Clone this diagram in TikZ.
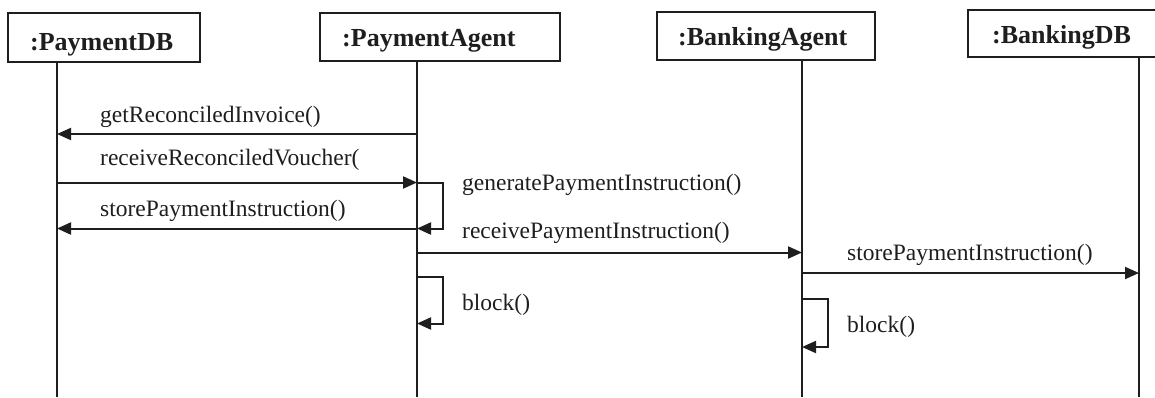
\documentclass[tikz,border=0pt]{standalone}
\usepackage{fontspec}
\setmainfont{Liberation Serif}
\usetikzlibrary{arrows.meta}
\definecolor{ink}{HTML}{1E1E1E}
\tikzset{
  obj/.style={draw=ink, line width=2pt, rectangle, inner sep=0pt},
  hdr/.style={anchor=base west, inner sep=0pt, text=ink,
    font=\fontsize{26}{30}\selectfont\bfseries},
  life/.style={draw=ink, line width=2pt},
  msg/.style={draw=ink, line width=2pt, -{Triangle[length=14pt,width=12pt]}},
  lbl/.style={anchor=base west, inner sep=0pt, text=ink,
    font=\fontsize{23.5}{28}\selectfont}
}
\begin{document}
\begin{tikzpicture}[x=1pt,y=-1pt]
\useasboundingbox (0,0) rectangle (1155,397);

% object headers (the last one runs past the right margin)
\node[obj, minimum width=192pt, minimum height=49pt] (pdb) at (104,37.5) {};
\node[obj, minimum width=240pt, minimum height=48pt] (pag) at (440,36.5) {};
\node[obj, minimum width=218pt, minimum height=48pt] (bag) at (766,35.5) {};
\node[obj, minimum width=196pt, minimum height=47pt] (bdb) at (1066,33.5) {};

\node[hdr] (tpdb) at (30,50) {:PaymentDB};
\node[hdr] (tpag) at (342,46.7) {:PaymentAgent};
\node[hdr] (tbag) at (678,45.5) {:BankingAgent};
\node[hdr] (tbdb) at (992,43) {:BankingDB};

% lifeline positions
\coordinate (xa) at (57,0);
\coordinate (xb) at (417,0);
\coordinate (xc) at (802,0);
\coordinate (xd) at (1139,0);
\coordinate (bot) at (0,397);

\draw[life] (pdb.south -| xa) -- (bot -| xa);
\draw[life] (pag.south -| xb) -- (bot -| xb);
\draw[life] (bag.south -| xc) -- (bot -| xc);
\draw[life] (bdb.south -| xd) -- (bot -| xd);

% message rows
\coordinate (r1) at (0,134);
\coordinate (r2) at (0,182.5);
\coordinate (r3) at (0,228.5);
\coordinate (r4) at (0,252.5);
\coordinate (r5) at (0,276.5);
\coordinate (r6) at (0,323.5);
\coordinate (r7) at (0,273);
\coordinate (r8) at (0,299);
\coordinate (r9) at (0,347);

% calls between lifelines
\draw[msg] (xb |- r1) -- (xa |- r1);
\draw[msg] (xa |- r2) -- (xb |- r2);
\draw[msg] (xb |- r3) -- (xa |- r3);
\draw[msg] (xb |- r4) -- (xc |- r4);
\draw[msg] (xc |- r7) -- (xd |- r7);

% self calls
\draw[msg] (xb |- r2) -- ++(26,0) |- (xb |- r3);
\draw[msg] (xb |- r5) -- ++(26,0) |- (xb |- r6);
\draw[msg] (xc |- r8) -- ++(26,0) |- (xc |- r9);

% message labels
\node[lbl] (m1) at (100,122) {getReconciledInvoice()};
\node[lbl] (m2) at (100,165) {receiveReconciledVoucher(};
\node[lbl] (m3) at (100,216.5) {storePaymentInstruction()};
\node[lbl] (m4) at (462,190) {generatePaymentInstruction()};
\node[lbl] (m5) at (462,238) {receivePaymentInstruction()};
\node[lbl] (m6) at (462,310) {block()};
\node[lbl] (m7) at (847,260) {storePaymentInstruction()};
\node[lbl] (m8) at (847,332) {block()};
\end{tikzpicture}
\end{document}
